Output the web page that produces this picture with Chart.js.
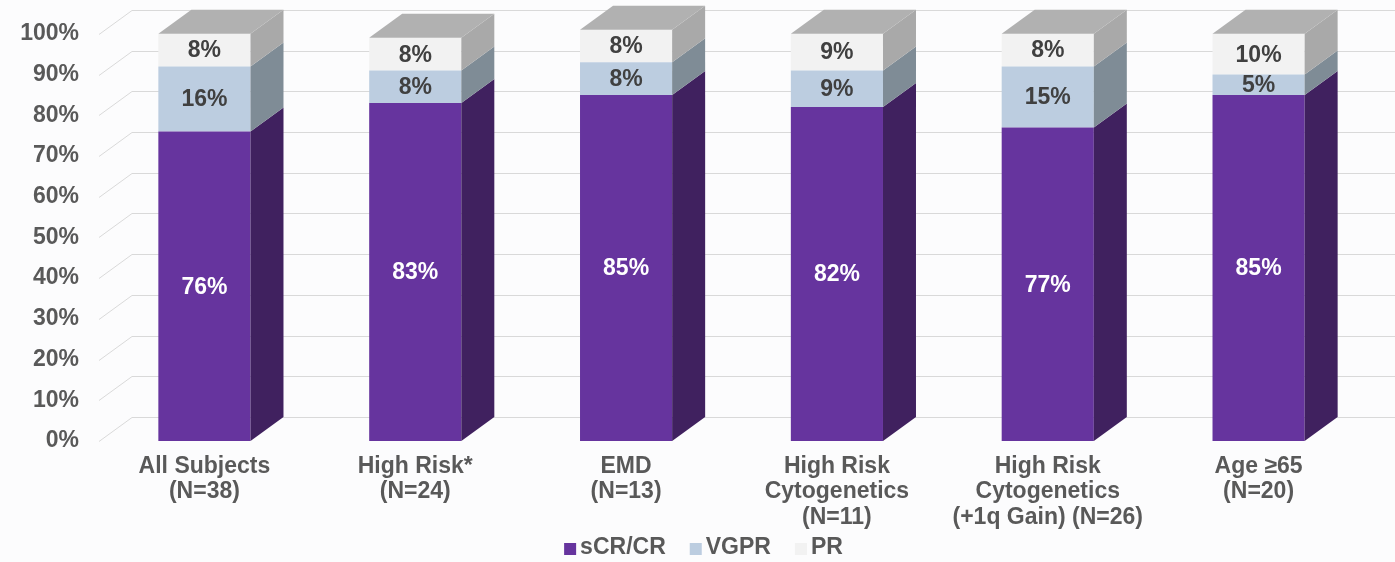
<!DOCTYPE html>
<html>
<head>
<meta charset="utf-8">
<script src="https://cdn.jsdelivr.net/npm/chart.js@4.4.1/dist/chart.umd.min.js"></script>
<style>
  html, body { margin: 0; padding: 0; background: #fcfcfd; }
  #wrap { width: 1395px; height: 562px; position: relative; }
</style>
</head>
<body>
<div id="wrap"><canvas id="chart"></canvas></div>
<script>
// Response rates by subgroup (percent of patients)
const categories = [
  ['All Subjects', '(N=38)'],
  ['High Risk*', '(N=24)'],
  ['EMD', '(N=13)'],
  ['High Risk', 'Cytogenetics', '(N=11)'],
  ['High Risk', 'Cytogenetics', '(+1q Gain) (N=26)'],
  ['Age ≥65', '(N=20)']
];
const seriesNames = ['sCR/CR', 'VGPR', 'PR'];
const crValues = [76, 83, 85, 82, 77, 85];
const vgprValues = [16, 8, 8, 9, 15, 5];
const prValues = [8, 8, 8, 9, 8, 10];
const yTickValues = [0, 10, 20, 30, 40, 50, 60, 70, 80, 90, 100];

const FONT = 'Arial, "Liberation Sans", sans-serif';
const FONT_SIZE = 23;
const TEXT_GREY = '#595959';

// fake 3D: depth offset of the back plane
const DX = 33, DY = 24;
const frontColors = ['#66349e', '#bccde0', '#f2f2f2'];
const sideColors = ['#40215f', '#7f8c96', '#a9a9a9'];
const topColor = '#b1b1b1';
const labelColors = ['#ffffff', '#404040', '#404040'];

// gridlines run along the floor edge and then across the back wall
const depthGrid = {
  id: 'depthGrid',
  beforeDatasetsDraw(chart) {
    const { ctx, chartArea: a, scales: { y } } = chart;
    ctx.save();
    ctx.strokeStyle = '#d9d9d9';
    ctx.lineWidth = 1;
    y.ticks.forEach(t => {
      const py = Math.round(y.getPixelForValue(t.value)) + 0.5;
      ctx.beginPath();
      ctx.moveTo(a.left, py);
      ctx.lineTo(a.left + DX, py - DY);
      ctx.lineTo(a.right + DX, py - DY);
      ctx.stroke();
    });
    ctx.restore();
  }
};

// side and top faces for every stacked segment
const depthBars = {
  id: 'depthBars',
  afterDatasetsDraw(chart) {
    const ctx = chart.ctx;
    const last = chart.data.datasets.length - 1;
    ctx.save();
    chart.data.datasets.forEach((ds, i) => {
      chart.getDatasetMeta(i).data.forEach(bar => {
        const { x, y, base, width } = bar.getProps(['x', 'y', 'base', 'width'], true);
        const l = x - width / 2, r = x + width / 2;
        ctx.fillStyle = sideColors[i];
        ctx.beginPath();
        ctx.moveTo(r, base);
        ctx.lineTo(r, y);
        ctx.lineTo(r + DX, y - DY);
        ctx.lineTo(r + DX, base - DY);
        ctx.closePath();
        ctx.fill();
        if (i === last) {
          ctx.fillStyle = topColor;
          ctx.beginPath();
          ctx.moveTo(l, y);
          ctx.lineTo(l + DX, y - DY);
          ctx.lineTo(r + DX, y - DY);
          ctx.lineTo(r, y);
          ctx.closePath();
          ctx.fill();
        }
      });
    });
    ctx.restore();
  }
};

// value labels in the middle of each segment
const segmentLabels = {
  id: 'segmentLabels',
  afterDatasetsDraw(chart) {
    const ctx = chart.ctx;
    ctx.save();
    ctx.font = 'bold ' + FONT_SIZE + 'px ' + FONT;
    ctx.textAlign = 'center';
    ctx.textBaseline = 'middle';
    chart.data.datasets.forEach((ds, i) => {
      ctx.fillStyle = labelColors[i];
      chart.getDatasetMeta(i).data.forEach((bar, j) => {
        const { x, y, base } = bar.getProps(['x', 'y', 'base'], true);
        ctx.fillText(ds.data[j] + '%', x, (y + base) / 2 + 1);
      });
    });
    ctx.restore();
  }
};

// compact legend along the bottom edge
const bottomLegend = {
  id: 'bottomLegend',
  afterDraw(chart) {
    const ctx = chart.ctx;
    const box = 12, gap = 4, spacing = 24;
    const cy = 548;
    ctx.save();
    ctx.font = 'bold ' + FONT_SIZE + 'px ' + FONT;
    ctx.textBaseline = 'middle';
    const items = chart.data.datasets.map(ds => ({
      text: ds.label, color: ds.backgroundColor, w: ctx.measureText(ds.label).width
    }));
    const total = items.reduce((s, it) => s + box + gap + it.w, 0) + spacing * (items.length - 1);
    let x = chart.width / 2 - total / 2 + 6;
    items.forEach(it => {
      ctx.fillStyle = it.color;
      ctx.fillRect(x, cy - box / 2 + 1, box, box);
      x += box + gap;
      ctx.fillStyle = TEXT_GREY;
      ctx.fillText(it.text, x, cy);
      x += it.w + spacing;
    });
    ctx.restore();
  }
};

const seriesValues = [crValues, vgprValues, prValues];

new Chart(document.getElementById('chart'), {
  type: 'bar',
  data: {
    labels: categories,
    datasets: seriesNames.map((name, i) => ({
      label: name,
      data: seriesValues[i],
      backgroundColor: frontColors[i],
      borderWidth: 0,
      barPercentage: 0.437,
      categoryPercentage: 1,
      clip: false
    }))
  },
  options: {
    responsive: true,
    maintainAspectRatio: false,
    animation: false,
    layout: { padding: { top: 28, right: 31, left: 0, bottom: 0 } },
    plugins: {
      legend: { display: false },
      tooltip: { enabled: false }
    },
    scales: {
      x: {
        stacked: true,
        grid: { display: false, drawTicks: false },
        border: { display: false },
        ticks: {
          color: TEXT_GREY,
          font: { family: FONT, size: FONT_SIZE, weight: 'bold', lineHeight: 1.1 },
          padding: 13,
          maxRotation: 0,
          autoSkip: false
        },
        afterFit: s => { s.height = 121; }
      },
      y: {
        stacked: true,
        min: 0,
        max: 100,
        grid: { display: false, drawTicks: false },
        border: { display: false },
        afterBuildTicks: s => { s.ticks = yTickValues.map(v => ({ value: v })); },
        ticks: {
          color: TEXT_GREY,
          font: { family: FONT, size: FONT_SIZE, weight: 'bold' },
          padding: 20,
          callback: v => v + '%'
        },
        afterFit: s => { s.width = 99; }
      }
    }
  },
  plugins: [depthGrid, depthBars, segmentLabels, bottomLegend]
});
</script>
</body>
</html>
